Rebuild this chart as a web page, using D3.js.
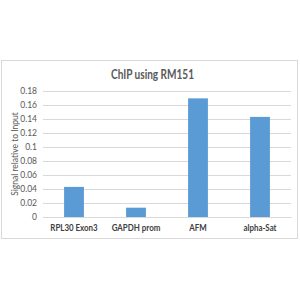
<!DOCTYPE html>
<html><head><meta charset="utf-8">
<script src="https://cdn.jsdelivr.net/npm/d3@7"></script>
<style>body{margin:0;background:#fff}svg{display:block}text{font-family:Lato,"Open Sans",sans-serif}</style>
</head><body>
<svg id="c" width="300" height="300"></svg>
<script>
const categories = ["RPL30 Exon3", "GAPDH prom", "AFM", "alpha-Sat"];
const values = [0.043, 0.0133, 0.1695, 0.143];
const yTicks = [0, 0.02, 0.04, 0.06, 0.08, 0.1, 0.12, 0.14, 0.16, 0.18];
const title = "ChIP using RM151";
const yTitle = "Signal relative to Input";

const svg = d3.select("#c");
svg.append("rect").attr("x", 1.5).attr("y", 60.5).attr("width", 296).attr("height", 178)
  .attr("fill", "#fff").attr("stroke", "#d9d9d9");

const x = d3.scaleBand().domain(categories).range([43, 291]).paddingInner(0.68).paddingOuter(0.34);
const y = d3.scaleLinear().domain([0, 0.18]).range([217, 91]);

const grid = svg.append("g");
grid.selectAll("line").data(yTicks).join("line")
  .attr("x1", 43).attr("x2", 291)
  .attr("y1", d => Math.round(y(d)) + 0.5).attr("y2", d => Math.round(y(d)) + 0.5)
  .attr("stroke", "#d9d9d9");

const yAxis = d3.axisLeft(y).tickValues(yTicks).tickSize(0).tickPadding(6).tickFormat(d => String(+d.toFixed(2)));
const ya = svg.append("g").attr("transform", "translate(43,0)").call(yAxis);
ya.select(".domain").remove();
ya.selectAll("text").attr("fill", "#595959").style("font-size", "8.5px");

svg.append("g").selectAll("rect").data(values).join("rect")
  .attr("x", (d, i) => x(categories[i]))
  .attr("width", x.bandwidth())
  .attr("y", d => y(d))
  .attr("height", d => y(0) - y(d))
  .attr("fill", "#5b9bd5");

const xAxis = d3.axisBottom(x).tickSize(0).tickPadding(8);
const xa = svg.append("g").attr("transform", "translate(0,217)").call(xAxis);
xa.select(".domain").attr("stroke", "#d9d9d9");
xa.selectAll("text").attr("fill", "#404040").style("font-size", "8.8px").style("font-weight", "bold")
  .each(function() { const w = this.getComputedTextLength(); this.setAttribute("textLength", w * 0.9); this.setAttribute("lengthAdjust", "spacingAndGlyphs"); });

svg.append("text").attr("x", 152.5).attr("y", 79).attr("text-anchor", "middle")
  .attr("fill", "#595959").style("font-size", "12.5px").style("font-weight", "bold").attr("textLength", 83).attr("lengthAdjust", "spacingAndGlyphs").text(title);

svg.append("text").attr("transform", "translate(18,154) rotate(-90)").attr("text-anchor", "middle")
  .attr("fill", "#595959").style("font-size", "8.5px").text(yTitle);
</script>
</body></html>
